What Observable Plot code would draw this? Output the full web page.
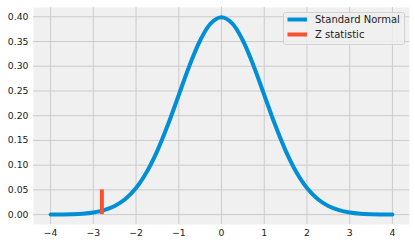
<!DOCTYPE html>
<html>
<head>
<meta charset="utf-8">
<script src="https://cdn.jsdelivr.net/npm/d3@7"></script>
<script src="https://cdn.jsdelivr.net/npm/@observablehq/plot@0.6"></script>
<style>
  html, body { margin: 0; padding: 0; background: #ffffff; }
  #chart { position: relative; width: 415px; height: 245px; }
  svg { font-family: "DejaVu Sans", sans-serif; }
</style>
</head>
<body>
<div id="chart"></div>
<script>
// Standard normal curve
const zValues = [-4, -3.75, -3.5, -3.25, -3, -2.75, -2.5, -2.25, -2, -1.75, -1.5, -1.25, -1, -0.75, -0.5, -0.25,
  0, 0.25, 0.5, 0.75, 1, 1.25, 1.5, 1.75, 2, 2.25, 2.5, 2.75, 3, 3.25, 3.5, 3.75, 4];
const densityValues = [0.0001, 0.0004, 0.0009, 0.0020, 0.0044, 0.0091, 0.0175, 0.0317, 0.0540, 0.0863, 0.1295, 0.1826, 0.2420, 0.3011, 0.3521, 0.3867,
  0.3989, 0.3867, 0.3521, 0.3011, 0.2420, 0.1826, 0.1295, 0.0863, 0.0540, 0.0317, 0.0175, 0.0091, 0.0044, 0.0020, 0.0009, 0.0004, 0.0001];
// Z statistic marker
const zStatX = [-2.8];
const zStatLow = [0];
const zStatHigh = [0.05];
// Ticks
const xTicks = [-4, -3, -2, -1, 0, 1, 2, 3, 4];
const yTicks = [0, 0.05, 0.10, 0.15, 0.20, 0.25, 0.30, 0.35, 0.40];
const seriesNames = ["Standard Normal", "Z statistic"];
const seriesColors = ["#008fd5", "#fc4f30"];

const curve = zValues.map((z, i) => ({x: z, y: densityValues[i]}));
const zStat = zStatX.map((x, i) => ({x, y1: zStatLow[i], y2: zStatHigh[i]}));

const chart = Plot.plot({
  width: 415,
  height: 245,
  marginLeft: 33,
  marginRight: 6,
  marginTop: 7,
  marginBottom: 21,
  style: {fontFamily: "DejaVu Sans, sans-serif", fontSize: "9.3px", color: "#222", background: "transparent"},
  x: {domain: [-4.4, 4.4], ticks: xTicks, tickSize: 0, tickPadding: 5, tickFormat: d3.format("d"), label: null},
  y: {domain: [-0.01995, 0.41885], ticks: yTicks, tickSize: 0, tickPadding: 5, tickFormat: d3.format(".2f"), label: null},
  marks: [
    Plot.frame({fill: "#f0f0f0", stroke: null}),
    Plot.gridX(xTicks, {stroke: "#cbcbcb", strokeOpacity: 1, strokeWidth: 1}),
    Plot.gridY(yTicks, {stroke: "#cbcbcb", strokeOpacity: 1, strokeWidth: 1}),
    Plot.line(curve, {x: "x", y: "y", stroke: seriesColors[0], strokeWidth: 4, curve: "catmull-rom"}),
    Plot.ruleX(zStat, {x: "x", y1: "y1", y2: "y2", stroke: seriesColors[1], strokeWidth: 4, strokeLinecap: "butt"})
  ]
});
document.getElementById("chart").appendChild(chart);

// Legend (top right, inside the plot)
const svg = d3.select(chart);
const lg = svg.append("g").attr("font-family", "DejaVu Sans, sans-serif").attr("font-size", "10px").attr("text-anchor", "start");
lg.append("rect").attr("x", 283.5).attr("y", 12.5).attr("width", 121).attr("height", 32).attr("rx", 2)
  .attr("fill", "#f0f0f0").attr("fill-opacity", 0.8).attr("stroke", "#cccccc").attr("stroke-width", 0.8);
seriesNames.forEach((name, i) => {
  const cy = 19.5 + i * 15;
  lg.append("line").attr("x1", 287.5).attr("x2", 307).attr("y1", cy).attr("y2", cy)
    .attr("stroke", seriesColors[i]).attr("stroke-width", 4);
  lg.append("text").attr("x", 315).attr("y", cy).attr("dy", "0.35em").attr("text-anchor", "start").attr("fill", "#222").text(name);
});
</script>
</body>
</html>
